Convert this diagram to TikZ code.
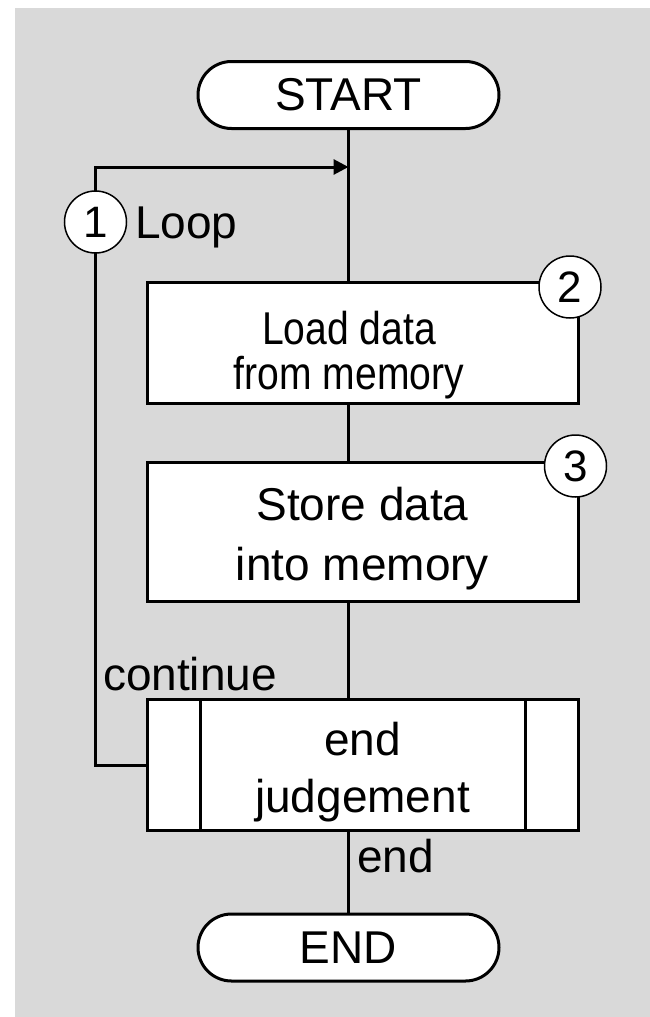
\documentclass[tikz,border=0pt]{standalone}
\usepackage{graphicx}
\usepackage{fontspec}
\setmainfont{Liberation Sans}
\usetikzlibrary{arrows.meta}
\definecolor{panel}{RGB}{217,217,217}
\newcommand{\narrowtext}[1]{\scalebox{0.85}[1]{#1}}
\begin{document}
\begin{tikzpicture}[x=1pt,y=-1pt,
  every node/.style={inner sep=0pt, outer sep=0pt},
  txt/.style={font=\fontsize{46}{46}\selectfont},
  term/.style={draw, fill=white, line width=3pt, rounded corners=33.5pt,
    minimum width=301pt, minimum height=67pt, txt},
  proc/.style={draw, fill=white, line width=3pt, minimum width=431pt},
  tag/.style={circle, draw, fill=white, line width=1.5pt, minimum size=62pt,
    font=\fontsize{44}{44}\selectfont},
  flow/.style={line width=3pt},
  loopback/.style={flow, -{Triangle[length=15pt,width=15pt]}},
]
% page and panel
\useasboundingbox (0,0) rectangle (650,1017);
\fill[white] (0,0) rectangle (650,1017);
\fill[panel] (15,8) rectangle (650,1017);

% terminals
\node[term] (start) at (348.5,95) {START};
\node[term] (stop) at (348.5,947.5) {END};

% process boxes
\node[proc, minimum height=121pt] (load) at (362.5,343) {};
\node[proc, minimum height=139pt] (store) at (362.5,532) {};
\node[proc, minimum height=131pt] (judge) at (362.5,765) {};
\draw[line width=3pt] ([xshift=53pt]judge.north west) -- ([xshift=53pt]judge.south west);
\draw[line width=3pt] ([xshift=-53pt]judge.north east) -- ([xshift=-53pt]judge.south east);

% box texts
\node[txt, anchor=base] (loadA) at (349,344) {\narrowtext{Load data}};
\node[txt, anchor=base] (loadB) at (349,389) {\narrowtext{from memory}};
\node[txt, anchor=base] (storeA) at (362.5,520) {Store data};
\node[txt, anchor=base] (storeB) at (362.5,580) {into memory};
\node[txt, anchor=base] (judgeA) at (362.5,755) {end};
\node[txt, anchor=base] (judgeB) at (362.5,812) {judgement};

% main flow
\coordinate (join) at (348.5,167);
\coordinate (back) at (95.5,765);
\draw[flow] (start.south) -- (start.south |- load.north);
\draw[flow] (start.south |- load.south) -- (start.south |- store.north);
\draw[flow] (start.south |- store.south) -- (start.south |- judge.north);
\draw[flow] (start.south |- judge.south) -- (stop.north);
\draw[loopback] (judge.west) -- (back) |- (join);

% labels
\node[txt, anchor=base west] (looplbl) at (135,238) {Loop};
\node[txt, anchor=base west] (contlbl) at (103,690) {continue};
\node[txt, anchor=base west] (endlbl) at (357,872) {end};

% step markers
\node[tag] (m1) at (95.5,222) {1};
\node[tag] (m2) at (570,287) {2};
\node[tag] (m3) at (575.5,466) {3};
\end{tikzpicture}
\end{document}
